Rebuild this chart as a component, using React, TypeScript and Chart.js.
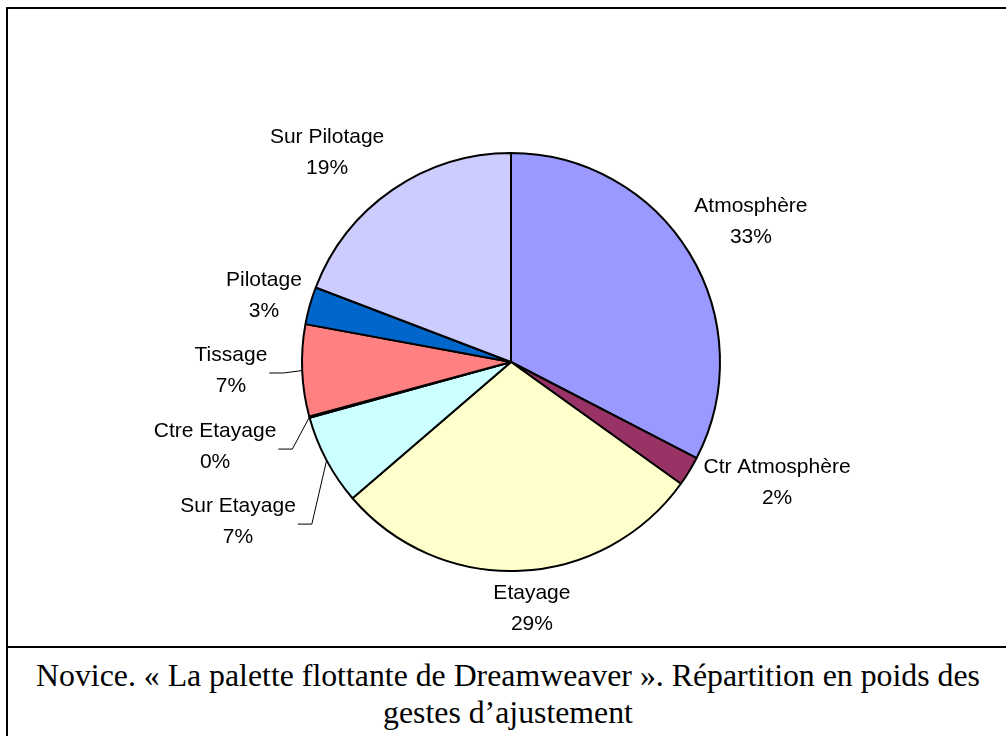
import React, { useEffect, useRef } from "react";
import { Chart, registerables } from "chart.js";

Chart.register(...registerables);

const categories: string[] = [
  "Atmosphère",
  "Ctr Atmosphère",
  "Etayage",
  "Sur Etayage",
  "Ctre Etayage",
  "Tissage",
  "Pilotage",
  "Sur Pilotage",
];
const values: number[] = [32.6, 2.3, 28.8, 7.0, 0.1, 7.1, 2.9, 19.2];
const colors: string[] = [
  "#9999FF",
  "#993366",
  "#FFFFCC",
  "#CCFFFF",
  "#660066",
  "#FF8080",
  "#0066CC",
  "#CCCCFF",
];
const captionLines: string[] = [
  "Novice. « La palette flottante de Dreamweaver ». Répartition en poids des",
  "gestes d’ajustement",
];

// label placement relative to pie centre, in units of the outer radius
const labelOffsets: [number, number, boolean][] = [
  [1.148, -0.67, false],
  [1.273, 0.579, false],
  [0.1, 1.182, false],
  [-1.306, 0.766, true],
  [-1.416, 0.407, true],
  [-1.34, 0.043, true],
  [-1.182, -0.316, false],
  [-0.88, -1.0, false],
];

const labelPlugin = {
  id: "pieLabels",
  afterDatasetsDraw(chart: any) {
    const ctx = chart.ctx;
    const meta = chart.getDatasetMeta(0);
    const data = chart.data.datasets[0].data as number[];
    const total = data.reduce((a, b) => a + b, 0);
    ctx.save();
    ctx.font = '21px "Liberation Sans", Arial, sans-serif';
    ctx.fillStyle = "#000";
    ctx.textAlign = "center";
    ctx.textBaseline = "middle";
    meta.data.forEach((arc: any, i: number) => {
      const { x, y, outerRadius, startAngle, endAngle } = arc.getProps(
        ["x", "y", "outerRadius", "startAngle", "endAngle"],
        true
      );
      const [ox, oy, leader] = labelOffsets[i];
      const lx = x + ox * outerRadius;
      const ly = y + oy * outerRadius;
      const name = chart.data.labels[i] as string;
      const pct = Math.round((data[i] / total) * 100) + "%";
      ctx.fillText(name, lx, ly - 15.5);
      ctx.fillText(pct, lx, ly + 15.5);
      if (leader) {
        const w = Math.max(ctx.measureText(name).width, ctx.measureText(pct).width);
        const mid = (startAngle + endAngle) / 2;
        const ax = x + Math.cos(mid) * outerRadius;
        const ay = y + Math.sin(mid) * outerRadius;
        const sx = lx + w / 2 + 2;
        const sy = ly + 2;
        ctx.beginPath();
        ctx.strokeStyle = "#000";
        ctx.lineWidth = 1;
        ctx.moveTo(sx, sy);
        ctx.lineTo(sx + 14, sy);
        ctx.lineTo(ax, ay);
        ctx.stroke();
      }
    });
    ctx.restore();
  },
};

export default function App() {
  const canvasRef = useRef<HTMLCanvasElement | null>(null);

  useEffect(() => {
    if (!canvasRef.current) return;
    const chart = new Chart(canvasRef.current, {
      type: "pie",
      data: {
        labels: categories,
        datasets: [
          {
            data: values,
            backgroundColor: colors,
            borderColor: "#000000",
            borderWidth: 2,
          },
        ],
      },
      options: {
        responsive: false,
        animation: false,
        layout: { padding: { top: 152, bottom: 164, left: 100, right: 84 } },
        plugins: {
          legend: { display: false },
          tooltip: { enabled: false },
        },
      },
      plugins: [labelPlugin],
    });
    return () => chart.destroy();
  }, []);

  return (
    <div
      style={{
        position: "absolute",
        left: 0,
        top: 0,
        width: 1006,
        height: 736,
        overflow: "hidden",
        background: "#fff",
      }}
    >
      <div
        style={{
          position: "absolute",
          left: 6,
          top: 7,
          width: 1010,
          height: 641,
          border: "2px solid #000",
          boxSizing: "border-box",
        }}
      />
      <div
        style={{
          position: "absolute",
          left: 6,
          top: 646,
          width: 1004,
          height: 120,
          borderLeft: "2px solid #000",
          borderRight: "2px solid #000",
          boxSizing: "border-box",
          paddingTop: 11,
          textAlign: "center",
          fontFamily: '"Liberation Serif", "Times New Roman", serif',
          fontSize: 31.8,
          lineHeight: "37px",
          color: "#000",
        }}
      >
        {captionLines.map((l, i) => (
          <div key={i} style={{ whiteSpace: "nowrap" }}>
            {l}
          </div>
        ))}
      </div>
      <canvas
        ref={canvasRef}
        width={1006}
        height={736}
        style={{ position: "absolute", left: 0, top: 0, width: 1006, height: 736 }}
      />
    </div>
  );
}
